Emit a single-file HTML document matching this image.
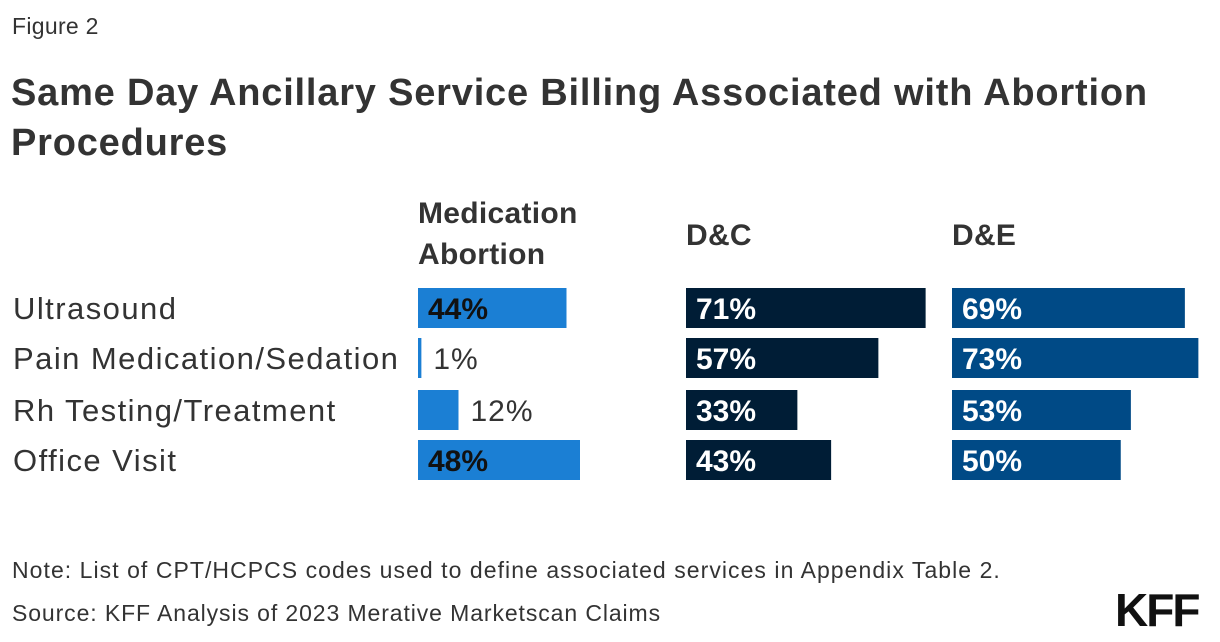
<!DOCTYPE html>
<html><head><meta charset="utf-8"><style>
body{margin:0;width:1220px;height:642px;background:#fff;font-family:"Liberation Sans",sans-serif;color:#333;position:relative;overflow:hidden}
.t{position:absolute;white-space:nowrap}
</style></head><body>
<div class="t" style="left:12px;top:13px;font-size:23px;color:#333;letter-spacing:0.3px">Figure 2</div>
<div class="t" style="left:11px;top:68px;font-size:38px;font-weight:bold;line-height:50px;color:#333;letter-spacing:0.8px">Same Day Ancillary Service Billing Associated with Abortion<br>Procedures</div>
<svg id="chart" width="1220" height="642" style="position:absolute;left:0;top:0"></svg>
<div class="t" style="left:12px;top:557px;font-size:23px;letter-spacing:1.05px">Note: List of CPT/HCPCS codes used to define associated services in Appendix Table 2.</div>
<div class="t" style="left:12px;top:600px;font-size:23px;letter-spacing:0.9px">Source: KFF Analysis of 2023 Merative Marketscan Claims</div>
<div class="t" style="left:1115px;top:583px;font-size:46px;font-weight:bold;color:#111;letter-spacing:-2px">KFF</div>
<script>
const categories=["Ultrasound","Pain Medication/Sedation","Rh Testing/Treatment","Office Visit"];
const groups=["Medication Abortion","D&C","D&E"];
const medication=[44,1,12,48];
const dc=[71,57,33,43];
const de=[69,73,53,50];
const series=[medication,dc,de];
const colors=["#1b7fd4","#001d36","#004a86"];
const textColors=["#111","#fff","#fff"];
const groupX=[418,686,952];
const scale=3.375;
const rowY=[288,338,390,440];
const barH=40;
const NS="http://www.w3.org/2000/svg";
const svg=document.getElementById('chart');
function x(v){return v*scale;}
function mk(tag,attrs,txt){const e=document.createElementNS(NS,tag);for(const k in attrs)e.setAttribute(k,attrs[k]);if(txt!==undefined)e.textContent=txt;svg.appendChild(e);return e;}
const heads=[["Medication","Abortion"],["D&C"],["D&E"]];
heads.forEach((h,g)=>{
  const t=mk('text',{x:groupX[g],y:h.length>1?223:245,'font-size':30,'font-weight':'bold',fill:'#333','letter-spacing':0.3});
  
  
  h.forEach((line,i)=>{const s=document.createElementNS(NS,'tspan');s.setAttribute('x',groupX[g]);s.setAttribute('dy',i?41:0);s.textContent=line;t.appendChild(s);});
});
categories.forEach((c,i)=>{
  const t=mk('text',{x:13,y:rowY[i]+barH/2+11,'font-size':31,fill:'#333','letter-spacing':1.45},c);
  
  
});
series.forEach((vals,g)=>{
  vals.forEach((v,i)=>{
    const w=x(v);
    const r=mk('rect',{x:groupX[g],y:rowY[i],width:w,height:barH,fill:colors[g]});
    
    
    const inside=w>60;
    const t=mk('text',{x:inside?groupX[g]+10:groupX[g]+w+12,y:rowY[i]+barH/2+11,'font-size':30,'font-weight':inside?'bold':'normal',fill:inside?textColors[g]:'#333','letter-spacing':inside?0:1},v+'%');
    
    
  });
});
</script>
</body></html>
